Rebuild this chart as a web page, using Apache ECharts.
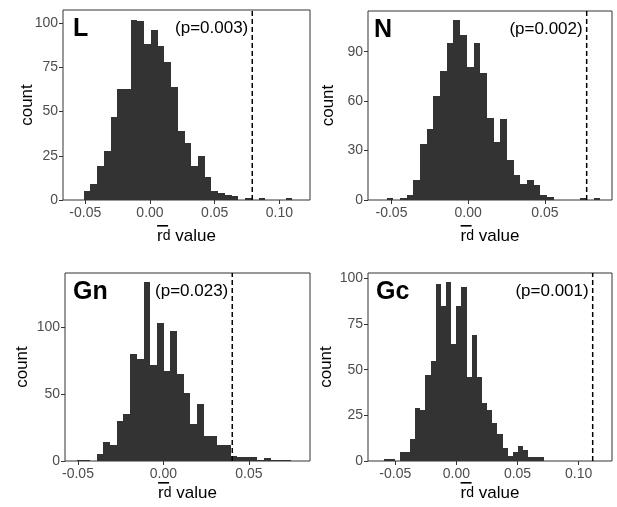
<!DOCTYPE html>
<html><head><meta charset="utf-8">
<script src="https://cdn.jsdelivr.net/npm/echarts@6.0.0/dist/echarts.min.js"></script>
<style>html,body{margin:0;padding:0;background:#fff}#c{width:617px;height:507px}</style>
</head><body><div id="c"></div>
<script>
// ---------- data ----------
const panelNames = ['L', 'N', 'Gn', 'Gc'];
const pLabels = ['(p=0.003)', '(p=0.002)', '(p=0.023)', '(p=0.001)'];
const observed = [0.079, 0.0772, 0.0403, 0.1115];

const binStartL = -0.0513, binWidthL = 0.0052;
const countsL = [5, 9, 19, 28, 47, 63, 63, 102, 101, 88, 96, 87, 78, 64, 39, 32, 19, 25, 13, 5, 4, 3, 2, 0, 1, 0, 1, 0, 0, 0, 1];

const binStartN = -0.0531, binWidthN = 0.00435;
const countsN = [1, 0, 1, 3, 12, 34, 43, 63, 78, 95, 109, 100, 81, 95, 77, 50, 35, 49, 24, 15, 10, 12, 9, 3, 2, 0, 0, 0, 0, 1, 0, 1];

const binStartGn = -0.0508, binWidthGn = 0.00392;
const countsGn = [1, 1, 0, 5, 14, 12, 30, 35, 80, 76, 134, 72, 103, 67, 97, 65, 51, 28, 43, 19, 19, 12, 12, 4, 3, 3, 3, 1, 2, 1, 1, 1];

const binStartGc = -0.0590, binWidthGc = 0.00421;
const countsGc = [1, 1, 0, 5, 5, 12, 29, 28, 47, 55, 97, 85, 98, 64, 85, 95, 46, 69, 46, 32, 28, 21, 15, 7, 3, 5, 8, 6, 2, 2, 2];

const xTicksL = [-0.05, 0, 0.05, 0.10];
const xTicksN = [-0.05, 0, 0.05];
const xTicksGn = [-0.05, 0, 0.05];
const xTicksGc = [-0.05, 0, 0.05, 0.10];
const yTicksL = [0, 25, 50, 75, 100];
const yTicksN = [0, 30, 60, 90];
const yTicksGn = [0, 50, 100];
const yTicksGc = [0, 25, 50, 75, 100];

const xRangeL = [-0.0672, 0.1236], xRangeN = [-0.0653, 0.0937], xRangeGn = [-0.0576, 0.0858], xRangeGc = [-0.0723, 0.1273];
const yMaxL = 107.5, yMaxN = 114.7, yMaxGn = 140.6, yMaxGc = 102.9;

// ---------- layout ----------
const grids = [
  {left: 63, top: 10, width: 247, height: 190},
  {left: 368, top: 11, width: 244, height: 189},
  {left: 65, top: 273, width: 245, height: 188},
  {left: 368, top: 273, width: 244, height: 188}
];
const yNameGaps = [27, 31, 34, 33];
const xNameGaps = [25, 25, 21, 21];
const letterOffsets = [10, 6, 8, 8];

const panels = [
  {start: binStartL, width: binWidthL, counts: countsL, xt: xTicksL, yt: yTicksL, xr: xRangeL, ymax: yMaxL},
  {start: binStartN, width: binWidthN, counts: countsN, xt: xTicksN, yt: yTicksN, xr: xRangeN, ymax: yMaxN},
  {start: binStartGn, width: binWidthGn, counts: countsGn, xt: xTicksGn, yt: yTicksGn, xr: xRangeGn, ymax: yMaxGn},
  {start: binStartGc, width: binWidthGc, counts: countsGc, xt: xTicksGc, yt: yTicksGc, xr: xRangeGc, ymax: yMaxGc}
];

const BAR = '#333333', AX = '#333333', LBL = '#4d4d4d';
const FONT = '"Liberation Sans", Arial, sans-serif';

// measure the x-axis title so the overbar line can sit above the "r"
const mctx = document.createElement('canvas').getContext('2d');
function tw(t, size) { mctx.font = size + 'px ' + FONT; return mctx.measureText(t).width; }
const titleW = tw('r', 17) + tw('d', 14) + tw(' value', 17);
const barW = 11;
const xName = '{bar| }{sp| }\n{r|r}{d|d} value';
const xRich = {
  bar: {width: barW, height: 1.6, lineHeight: 1.6, backgroundColor: '#000', fontSize: 1},
  sp: {width: titleW - barW, height: 1.6, lineHeight: 1.6, fontSize: 1},
  r: {fontSize: 17, fontFamily: FONT, color: '#000', lineHeight: 20},
  d: {fontSize: 14, fontFamily: FONT, color: '#000', lineHeight: 20}
};

const option = {
  animation: false,
  backgroundColor: '#fff',
  textStyle: {fontFamily: FONT},
  grid: grids.map(g => Object.assign({show: true, borderColor: AX, borderWidth: 1, containLabel: false}, g)),
  xAxis: panels.map((p, i) => ({
    type: 'value', gridIndex: i, min: p.xr[0], max: p.xr[1],
    axisLine: {show: false, onZero: false},
    splitLine: {show: false},
    axisTick: {show: true, length: 4, customValues: p.xt, lineStyle: {color: AX, width: 1}},
    axisLabel: {customValues: p.xt, formatter: v => v.toFixed(2), color: LBL, fontSize: 14, margin: 6, fontFamily: FONT},
    name: xName, nameLocation: 'middle', nameGap: xNameGaps[i], nameMoveOverlap: false,
    nameTextStyle: {color: '#000', fontSize: 17, fontFamily: FONT, verticalAlign: 'top', lineHeight: 20, rich: xRich}
  })),
  yAxis: panels.map((p, i) => ({
    type: 'value', gridIndex: i, min: 0, max: p.ymax,
    axisLine: {show: false, onZero: false},
    splitLine: {show: false},
    axisTick: {show: true, length: 4, customValues: p.yt, lineStyle: {color: AX, width: 1}},
    axisLabel: {customValues: p.yt, color: LBL, fontSize: 14, margin: 5, fontFamily: FONT},
    name: 'count', nameLocation: 'middle', nameRotate: 90, nameGap: yNameGaps[i], nameMoveOverlap: false,
    nameTextStyle: {color: '#000', fontSize: 17, fontFamily: FONT}
  })),
  series: []
};

panels.forEach((p, i) => {
  option.series.push({
    type: 'custom', xAxisIndex: i, yAxisIndex: i, clip: true,
    data: p.counts.map((c, k) => [p.start + k * p.width, p.start + (k + 1) * p.width, c]),
    encode: {x: [0, 1], y: 2},
    renderItem: (params, api) => {
      const a = api.coord([api.value(0), api.value(2)]);
      const b = api.coord([api.value(1), 0]);
      const x0 = Math.round(a[0]), x1 = Math.round(b[0]);
      const y0 = Math.round(a[1]), y1 = Math.round(b[1]);
      return {type: 'rect', shape: {x: x0, y: y0, width: x1 - x0, height: y1 - y0},
        style: {fill: BAR}};
    }
  });
  option.series.push({
    type: 'line', xAxisIndex: i, yAxisIndex: i, symbol: 'none', silent: true,
    data: [[observed[i], 0], [observed[i], p.ymax]],
    lineStyle: {color: '#000', width: 1.5, type: [5, 3]}
  });
});

const chart = echarts.init(document.getElementById('c'), null, {renderer: 'canvas'});
chart.setOption(option);

const graphics = [];
panels.forEach((p, i) => {
  const g = grids[i];
  graphics.push({type: 'text', x: g.left + letterOffsets[i], y: g.top + 19.5,
    style: {text: panelNames[i], font: 'bold 25px ' + FONT, fill: '#000', textAlign: 'left', textVerticalAlign: 'middle'}});
  const dx = chart.convertToPixel({xAxisIndex: i}, observed[i]);
  graphics.push({type: 'text', x: dx - 4, y: g.top + 18.5,
    style: {text: pLabels[i], font: '17px ' + FONT, fill: '#000', textAlign: 'right', textVerticalAlign: 'middle'}});
});
chart.setOption({graphic: graphics});
</script>
</body></html>
